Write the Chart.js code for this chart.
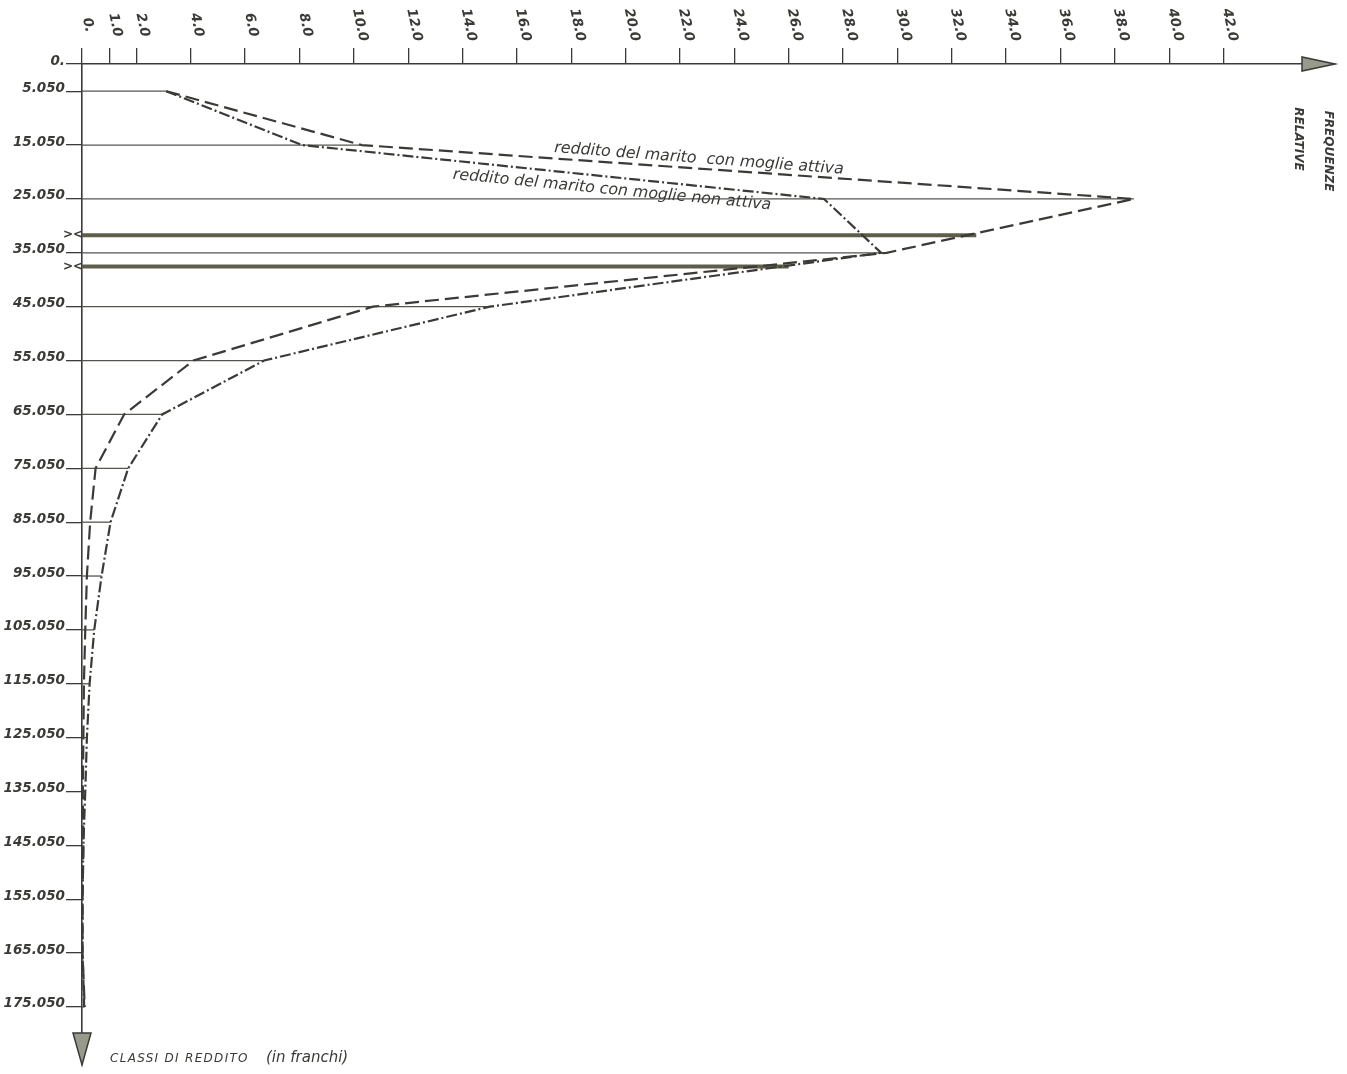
<!DOCTYPE html>
<html>
<head>
<meta charset="utf-8">
<script src="https://cdn.jsdelivr.net/npm/chart.js@4.4.1/dist/chart.umd.min.js"></script>
<style>
  html, body { margin: 0; padding: 0; background: #fff; }
  #wrap { width: 1347px; height: 1074px; position: relative; }
</style>
</head>
<body>
<div id="wrap"><canvas id="redditoChart"></canvas></div>
<script>
// classi di reddito (migliaia di franchi) e frequenze relative (%)
const classes = [5.05, 15.05, 25.05, 35.05, 45.05, 55.05, 65.05, 75.05, 85.05, 95.05,
                 105.05, 115.05, 125.05, 135.05, 145.05, 155.05, 165.05, 175.05];
const attiva    = [3.1, 10.3, 38.7, 29.6, 10.7, 4.1, 1.55, 0.5, 0.3, 0.18,
                   0.12, 0.07, 0.05, 0.03, 0.05, 0.02, 0.02, 0.1];
const nonAttiva = [3.1, 8.1, 27.3, 29.4, 15.0, 6.7, 2.95, 1.7, 1.05, 0.72,
                   0.45, 0.28, 0.18, 0.12, 0.05, 0.02, 0.02, 0.08];

// linee marcate (redditi medi) e fin dove arrivano
const meanLevels = [31.8, 37.6];
const meanEnds = [32.9, 26.0];

const xTickValues = [0, 1, 2, 4, 6, 8, 10, 12, 14, 16, 18, 20, 22, 24, 26, 28, 30, 32, 34, 36, 38, 40, 42];
const xTickLabels = ["0.", "1.0", "2.0", "4.0", "6.0", "8.0", "10.0", "12.0", "14.0", "16.0", "18.0",
                     "20.0", "22.0", "24.0", "26.0", "28.0", "30.0", "32.0", "34.0", "36.0", "38.0", "40.0", "42.0"];
const yTickValues = [0, ...classes];
const yTickLabels = ["0.", "5.050", "15.050", "25.050", "35.050", "45.050", "55.050", "65.050", "75.050",
                     "85.050", "95.050", "105.050", "115.050", "125.050", "135.050", "145.050",
                     "155.050", "165.050", "175.050"];

const INK = '#3a3a36';
const FONT = "'DejaVu Sans', 'Noto Sans', sans-serif";

const datasets = [];

datasets.push({
  label: 'reddito del marito con moglie attiva',
  data: classes.map((c, i) => ({ x: attiva[i], y: c })),
  borderColor: INK,
  borderWidth: 2.2,
  borderDash: [14, 6],
  showLine: true,
  pointRadius: 0
});
datasets.push({
  label: 'reddito del marito con moglie non attiva',
  data: classes.map((c, i) => ({ x: nonAttiva[i], y: c })),
  borderColor: INK,
  borderWidth: 2.2,
  borderDash: [11, 3, 2, 3],
  showLine: true,
  pointRadius: 0
});

// linee marcate
meanLevels.forEach((lev, i) => {
  datasets.push({
    data: [{ x: 0, y: lev }, { x: meanEnds[i], y: lev }],
    borderColor: '#5e5e4a',
    borderWidth: 4,
    showLine: true,
    pointRadius: 0
  });
});

// linee orizzontali di ogni classe, fino alla curva più lontana
classes.forEach((c, i) => {
  datasets.push({
    data: [{ x: 0, y: c }, { x: Math.max(attiva[i], nonAttiva[i]), y: c }],
    borderColor: '#555550',
    borderWidth: 1.3,
    showLine: true,
    pointRadius: 0
  });
});

const decorPlugin = {
  id: 'decor',
  afterDraw(chart) {
    const ctx = chart.ctx;
    const xs = chart.scales.x, ys = chart.scales.y;
    const area = chart.chartArea;
    ctx.save();
    ctx.fillStyle = INK;
    ctx.strokeStyle = INK;

    // etichette asse delle frequenze (ruotate)
    ctx.font = 'italic bold 13.5px ' + FONT;
    ctx.textAlign = 'center';
    ctx.textBaseline = 'middle';
    xTickValues.forEach((v, i) => {
      ctx.save();
      ctx.translate(xs.getPixelForValue(v) + 6, 25);
      ctx.rotate(78 * Math.PI / 180);
      ctx.fillText(xTickLabels[i], 0, 0);
      ctx.restore();
    });

    // frecce degli assi
    ctx.lineWidth = 1.5;
    ctx.fillStyle = '#9a9a8c';
    ctx.beginPath();
    ctx.moveTo(area.right, area.top);
    ctx.lineTo(area.right - 33, area.top - 7);
    ctx.lineTo(area.right - 33, area.top + 7);
    ctx.closePath();
    ctx.fill();
    ctx.stroke();
    ctx.beginPath();
    ctx.moveTo(area.left, area.bottom);
    ctx.lineTo(area.left - 9, area.bottom - 32);
    ctx.lineTo(area.left + 9, area.bottom - 32);
    ctx.closePath();
    ctx.fill();
    ctx.stroke();

    // segni sulle linee marcate
    ctx.fillStyle = INK;
    ctx.font = 'bold 12px ' + FONT;
    ctx.textAlign = 'right';
    meanLevels.forEach(lev => {
      ctx.fillText('><', area.left + 1, ys.getPixelForValue(lev));
    });

    // didascalie delle curve
    ctx.font = 'italic 15.8px ' + FONT;
    ctx.textAlign = 'center';
    ctx.save();
    ctx.translate(xs.getPixelForValue(22.7), ys.getPixelForValue(17.6));
    ctx.rotate(4.3 * Math.PI / 180);
    ctx.fillText('reddito del marito  con moglie attiva', 0, 0);
    ctx.restore();
    ctx.save();
    ctx.translate(xs.getPixelForValue(19.5), ys.getPixelForValue(23.4));
    ctx.rotate(5.5 * Math.PI / 180);
    ctx.fillText('reddito del marito con moglie non attiva', 0, 0);
    ctx.restore();

    // titoli degli assi
    ctx.font = 'italic bold 12px ' + FONT;
    ctx.save();
    ctx.translate(1328, 151);
    ctx.rotate(Math.PI / 2);
    ctx.fillText('FREQUENZE', 0, 0);
    ctx.restore();
    ctx.save();
    ctx.translate(1298, 139);
    ctx.rotate(Math.PI / 2);
    ctx.fillText('RELATIVE', 0, 0);
    ctx.restore();

    ctx.textAlign = 'left';
    ctx.textBaseline = 'alphabetic';
    ctx.font = 'italic 12px ' + FONT;
    ctx.letterSpacing = '1.3px';
    ctx.fillText('CLASSI DI REDDITO', 110, 1062);
    ctx.letterSpacing = '0px';
    ctx.font = 'italic 15px ' + FONT;
    ctx.fillText('(in franchi)', 266, 1062);

    ctx.restore();
  }
};

new Chart(document.getElementById('redditoChart'), {
  type: 'scatter',
  data: { datasets: datasets },
  options: {
    responsive: true,
    maintainAspectRatio: false,
    animation: false,
    layout: { padding: { top: 0, left: 0, right: 12, bottom: 8 } },
    plugins: {
      legend: { display: false },
      tooltip: { enabled: false }
    },
    scales: {
      x: {
        type: 'linear',
        position: 'top',
        min: 0,
        max: 46.1,
        afterBuildTicks: scale => { scale.ticks = xTickValues.map(v => ({ value: v })); },
        afterFit: scale => { scale.height = 64; },
        ticks: { display: false },
        grid: { drawOnChartArea: false, drawTicks: true, tickLength: 16, color: INK, lineWidth: 1.3 },
        border: { display: true, color: INK, width: 1.6 }
      },
      y: {
        type: 'linear',
        position: 'left',
        reverse: true,
        min: 0,
        max: 185.8,
        afterBuildTicks: scale => { scale.ticks = yTickValues.map(v => ({ value: v })); },
        afterFit: scale => { scale.width = 82; },
        ticks: {
          callback: (v, i) => yTickLabels[i],
          font: { family: FONT, size: 13.5, style: 'italic', weight: '600' },
          color: INK,
          padding: 1,
          labelOffset: -3
        },
        grid: { drawOnChartArea: false, drawTicks: true, tickLength: 16, color: INK, lineWidth: 1.3 },
        border: { display: true, color: INK, width: 1.6 }
      }
    }
  },
  plugins: [decorPlugin]
});
</script>
</body>
</html>
